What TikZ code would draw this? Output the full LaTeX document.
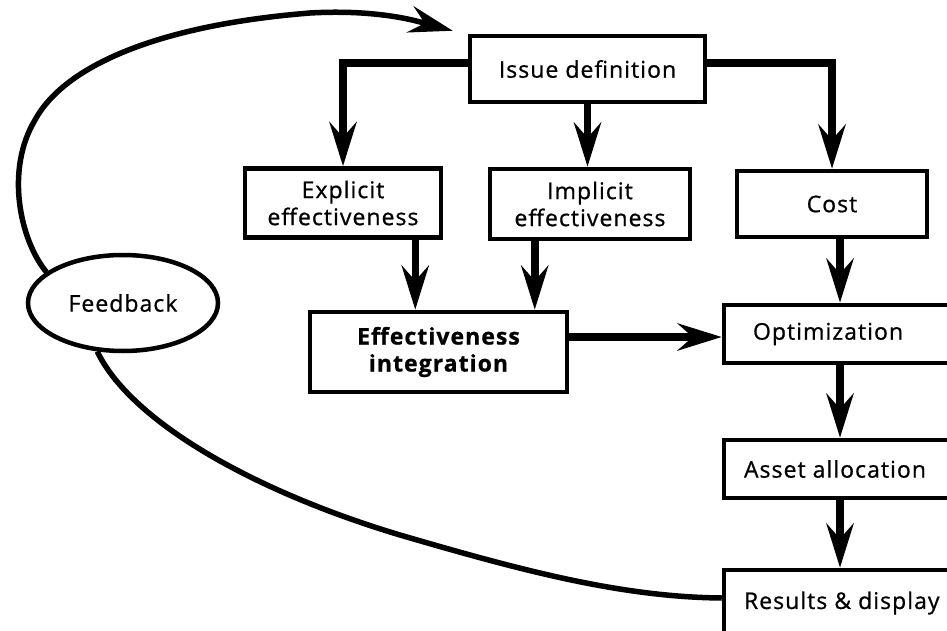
\documentclass[tikz,border=0pt]{standalone}
\usepackage{fontspec}
\setmainfont{Open Sans}[LetterSpace=4.5, FakeBold=0.8]
\usetikzlibrary{arrows.meta,calc,shapes.geometric}

% left-aligned label of fixed width inside the right-hand boxes
\newcommand{\rtext}[1]{\makebox[192pt][l]{#1}}

\begin{document}
\begin{tikzpicture}[x=1pt,y=-1pt,
  lbl/.style={font=\fontsize{23}{27}\selectfont},
  box/.style={draw, line width=4.5pt, inner sep=0pt, align=center, lbl},
  rbox/.style={box, inner xsep=20pt, minimum width=232pt},
  tip/.style={-{Stealth[length=44pt,width=27pt,inset=15pt]}},
  flow/.style={line width=7.5pt, tip},
  loop/.style={line width=5.5pt}]
\useasboundingbox (0,0) rectangle (947,631);
\clip (0,0) rectangle (947,631);

% process boxes
\node[box, minimum width=235pt, minimum height=66pt] (issue) at (587.5,69) {Issue definition};
\node[box, minimum width=196pt, minimum height=69pt] (expl) at (343,203) {Explicit\\effectiveness};
\node[box, minimum width=200pt, minimum height=70pt] (impl) at (590,204) {Implicit\\effectiveness};
\node[box, minimum width=190pt, minimum height=66pt] (cost) at (832,204) {Cost};
\node[box, minimum width=257pt, minimum height=80pt,
      font=\fontsize{23}{27}\selectfont\bfseries] (ei) at (438.5,352) {Effectiveness\\integration};
\node[rbox, minimum height=58pt] (opt) at (840,334) {\rtext{\hspace*{9pt}Optimization}};
\node[rbox, minimum height=58pt] (asset) at (840,469) {\rtext{Asset allocation}};
\node[rbox, minimum height=66pt] (res) at (840,603) {\rtext{Results \& display}};

% feedback ellipse
\node[draw, ellipse, line width=4.5pt, minimum width=190pt, minimum height=96pt,
      inner sep=0pt, lbl] (fb) at (123,303) {Feedback};

% main flow
\draw[flow] ([yshift=6pt]issue.west) -| (expl.north);
\draw[flow] (issue.south) -- (issue.south |- impl.north);
\draw[flow] ([yshift=6pt]issue.east) -| (cost.north);
\draw[flow] ([xshift=-28pt]expl.south east) -- ([xshift=-28pt]expl.south east |- ei.north);
\draw[flow] ([xshift=47pt]impl.south west) -- ([xshift=47pt]impl.south west |- ei.north);
\draw[flow] ([yshift=-3pt]ei.east |- opt.west) -- ([yshift=-3pt]opt.west);
\draw[flow] (cost.south -| opt.north) -- (opt.north);
\draw[flow] (opt) -- (asset);
\draw[flow] (asset) -- (res);

% feedback loop
\coordinate (fbin) at ($(issue.north west)+(-15,-3)$);
\draw[loop, tip] (fb.158) .. controls (20,240) and (5,170) .. (35,120)
  .. controls (65,65) and (160,25) .. (310,13)
  .. controls (380,9) and (420,22) .. (fbin);
\draw[loop] (fb.242) .. controls (130,420) and (250,490) .. (400,535)
  .. controls (520,570) and (620,597) .. ([yshift=5pt]res.west);
\end{tikzpicture}
\end{document}
